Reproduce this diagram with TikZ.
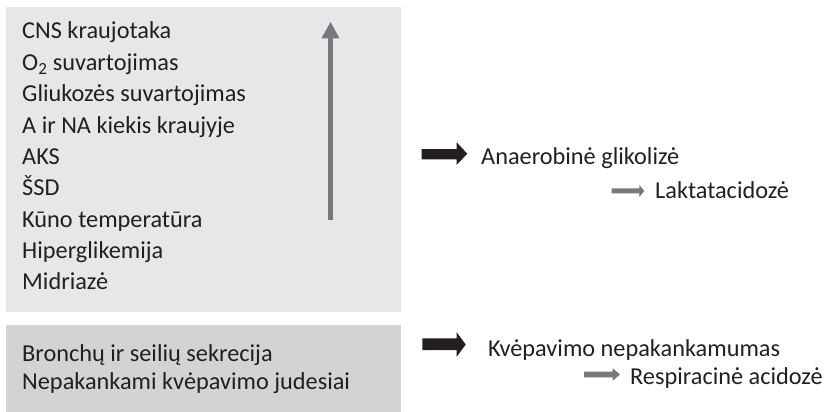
\documentclass[tikz,border=0pt]{standalone}
\usepackage{fontspec}
\setmainfont{Carlito}
\usetikzlibrary{arrows.meta}
\definecolor{boxA}{HTML}{E6E7E8}
\definecolor{boxB}{HTML}{D1D3D4}
\definecolor{ink}{HTML}{231F20}
\definecolor{grayarr}{HTML}{77787B}
\begin{document}
\begin{tikzpicture}[x=1pt,y=-1pt,
  txt/.style={anchor=base west,inner sep=0pt,font=\fontsize{24.3}{28}\selectfont,text=ink},
  bigarrow/.style={draw=none,fill=ink},
  smallarrow/.style={draw=none,fill=grayarr}]
\useasboundingbox (0,0) rectangle (828,412);
\fill[boxA] (6,7) rectangle (401,311.5);
\fill[boxB] (6,325) rectangle (401,412);
% left lists
\node[txt] (l1) at (22,39) {CNS kraujotaka};
\node[txt] (l2) at (22,70.5) {O\textsubscript{2} suvartojimas};
\node[txt] (l3) at (22,102) {Gliukozės suvartojimas};
\node[txt] (l4) at (22,133) {A ir NA kiekis kraujyje};
\node[txt] (l5) at (22,164.5) {AKS};
\node[txt] (l6) at (22,195.5) {ŠSD};
\node[txt] (l7) at (22,227) {Kūno temperatūra};
\node[txt] (l8) at (22,258) {Hiperglikemija};
\node[txt] (l9) at (22,289.5) {Midriazė};
\node[txt] (b1) at (22,361.5) {Bronchų ir seilių sekrecija};
\node[txt] (b2) at (22,389) {Nepakankami kvėpavimo judesiai};
% vertical arrow
\coordinate (vb) at (330.5,220);
\coordinate (vt) at (330.5,21.7);
\draw[grayarr,line width=5.7pt,-{Triangle[width=16.7pt,length=16.6pt]}] (vb) -- (vt);
% right texts
\node[txt] (r1) at (481,164.5) {Anaerobinė glikolizė};
\node[txt] (r2) at (655,198) {Laktatacidozė};
\node[txt] (r3) at (488,356) {Kvėpavimo nepakankamumas};
\node[txt] (r4) at (630,384) {Respiracinė acidozė};
% block arrows
\fill[bigarrow] (421.7,149) -- (456.7,149) -- (456.7,142.3) -- (467.3,153.8) -- (456.7,164.8) -- (456.7,159.3) -- (421.7,159.3) -- cycle;
\fill[smallarrow] (611.7,188.3) -- (639.3,188.3) -- (639.3,185) -- (644.3,191) -- (639.3,197) -- (639.3,193.3) -- (611.7,193.3) -- cycle;
\fill[bigarrow] (422.3,338.3) -- (456.7,338.3) -- (456.7,332.3) -- (465.7,344.5) -- (456.7,356.7) -- (456.7,350) -- (422.3,350) -- cycle;
\fill[smallarrow] (584,371.7) -- (612.7,371.7) -- (612.7,368.3) -- (620,374.5) -- (612.7,380.7) -- (612.7,377.3) -- (584,377.3) -- cycle;
\end{tikzpicture}
\end{document}
